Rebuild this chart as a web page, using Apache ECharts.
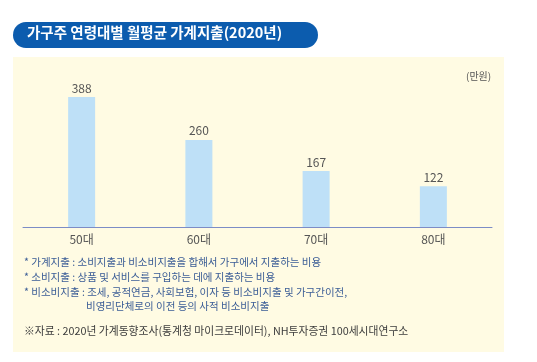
<!DOCTYPE html>
<html><head><meta charset="utf-8">
<script src="https://cdn.jsdelivr.net/npm/echarts@6/dist/echarts.min.js"></script>
<style>html,body{margin:0;padding:0;background:#fff}#c{width:537px;height:362px}</style>
</head><body><div id="c"></div>
<script>
const title = '가구주 연령대별 월평균 가계지출(2020년)';
const unit = '(만원)';
const categories = ['50대', '60대', '70대', '80대'];
const values = [388, 260, 167, 122];
const notes = [
  '* 가계지출 : 소비지출과 비소비지출을 합해서 가구에서 지출하는 비용',
  '* 소비지출 : 상품 및 서비스를 구입하는 데에 지출하는 비용',
  '* 비소비지출 : 조세, 공적연금, 사회보험, 이자 등 비소비지출 및 가구간이전,',
  '비영리단체로의 이전 등의 사적 비소비지출'
];
const source = '※자료 : 2020년 가계동향조사(통계청 마이크로데이터), NH투자증권 100세시대연구소';

const F = '"Noto Sans CJK KR", "Noto Sans", sans-serif';
const noteColor = '#3b5d96';
const chart = echarts.init(document.getElementById('c'), null, {renderer: 'canvas'});
chart.setOption({
  backgroundColor: '#ffffff',
  animation: false,
  graphic: [
    {type: 'rect', z: -10, shape: {x: 13, y: 57, width: 491, height: 295}, style: {fill: '#fffbe3'}},
    {type: 'rect', z: 5, shape: {x: 13, y: 22, width: 305, height: 26, r: 13}, style: {fill: '#0c5cae'}},
    {type: 'text', z: 6, left: 27, top: 25, style: {text: title, fill: '#ffffff', font: 'bold 14.5px ' + F}},
    {type: 'text', z: 6, left: 466, top: 71, style: {text: unit, fill: '#555555', font: '10px ' + F}},
    {type: 'text', z: 6, left: 24, top: 257, style: {text: notes[0], fill: noteColor, font: '10.5px ' + F}},
    {type: 'text', z: 6, left: 24, top: 272, style: {text: notes[1], fill: noteColor, font: '10.5px ' + F}},
    {type: 'text', z: 6, left: 24, top: 287, style: {text: notes[2], fill: noteColor, font: '10.5px ' + F}},
    {type: 'text', z: 6, left: 86, top: 301, style: {text: notes[3], fill: noteColor, font: '10.5px ' + F}},
    {type: 'text', z: 6, left: 24, top: 326, style: {text: source, fill: '#3d3d3d', font: '10.8px ' + F}}
  ],
  grid: {left: 23, right: 45, top: 93, height: 134, containLabel: false},
  xAxis: {
    type: 'category', data: categories,
    axisLine: {lineStyle: {color: '#7c8cc6', width: 1}},
    axisTick: {show: false},
    axisLabel: {color: '#555555', fontSize: 12, fontFamily: F, margin: 6}
  },
  yAxis: {type: 'value', min: 0, max: 400, show: false, splitLine: {show: false}},
  series: [{
    type: 'bar', data: values, barWidth: 27,
    itemStyle: {color: '#bee0f7'},
    label: {show: true, position: 'top', distance: 3, color: '#555555', fontSize: 12, fontFamily: F}
  }]
});
</script></body></html>
